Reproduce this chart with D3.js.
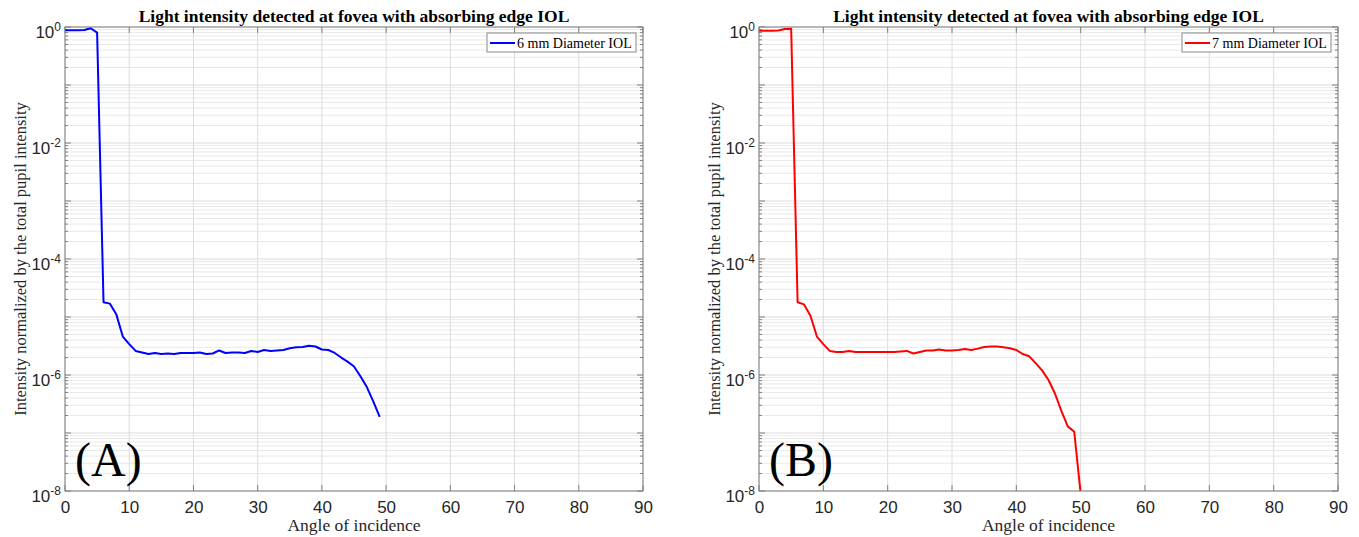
<!DOCTYPE html>
<html>
<head>
<meta charset="utf-8">
<script src="https://cdnjs.cloudflare.com/ajax/libs/d3/7.8.5/d3.min.js"></script>
<style>
  body { margin: 0; background: #fff; }
  svg text { fill: #262626; }
</style>
</head>
<body>
<div id="chart"></div>
<script>
const width = 1359;
const height = 537;

// Angle of incidence (degrees)
const anglesA = d3.range(0, 50);
const anglesB = d3.range(0, 51);

// 6 mm diameter IOL
const intensityA = [
  0.88, 0.88, 0.88, 0.89, 0.95, 0.80, 1.8e-5, 1.7e-5, 1.1e-5, 4.6e-6,
  3.4e-6, 2.6e-6, 2.45e-6, 2.3e-6, 2.4e-6, 2.3e-6, 2.35e-6, 2.3e-6, 2.4e-6, 2.4e-6,
  2.4e-6, 2.45e-6, 2.3e-6, 2.35e-6, 2.65e-6, 2.4e-6, 2.45e-6, 2.45e-6, 2.4e-6, 2.6e-6,
  2.5e-6, 2.7e-6, 2.6e-6, 2.65e-6, 2.7e-6, 2.9e-6, 3.0e-6, 3.05e-6, 3.2e-6, 3.1e-6,
  2.75e-6, 2.7e-6, 2.4e-6, 2.0e-6, 1.7e-6, 1.4e-6, 9.5e-7, 6.2e-7, 3.5e-7, 1.9e-7
];

// 7 mm diameter IOL
const intensityB = [
  0.86, 0.86, 0.86, 0.87, 0.92, 0.93, 1.8e-5, 1.65e-5, 1.05e-5, 4.6e-6,
  3.4e-6, 2.6e-6, 2.5e-6, 2.5e-6, 2.6e-6, 2.5e-6, 2.5e-6, 2.5e-6, 2.5e-6, 2.5e-6,
  2.5e-6, 2.5e-6, 2.55e-6, 2.6e-6, 2.35e-6, 2.5e-6, 2.65e-6, 2.65e-6, 2.75e-6, 2.65e-6,
  2.65e-6, 2.7e-6, 2.8e-6, 2.7e-6, 2.85e-6, 3.05e-6, 3.1e-6, 3.1e-6, 3.0e-6, 2.9e-6,
  2.7e-6, 2.3e-6, 2.1e-6, 1.6e-6, 1.2e-6, 8.2e-7, 4.8e-7, 2.4e-7, 1.3e-7, 1.05e-7,
  9e-9
];

const xTicks = d3.range(0, 91, 10);
const yTickExps = [0, -2, -4, -6, -8];

const titleText = "Light intensity detected at fovea with absorbing edge IOL";
const xLabel = "Angle of incidence";
const yLabel = "Intensity normalized by the total pupil intensity";

const panels = [
  { id: "A", label: "(A)", legend: "6 mm Diameter IOL", color: "#0000ff",
    x: anglesA, y: intensityA, left: 65, right: 643 },
  { id: "B", label: "(B)", legend: "7 mm Diameter IOL", color: "#ff0000",
    x: anglesB, y: intensityB, left: 759, right: 1338 }
];

const plotTop = 27, plotBottom = 491;
const serif = "'Liberation Serif', 'Times New Roman', serif";
const sans = "'Liberation Sans', Arial, sans-serif";

const svg = d3.select("#chart")
  .append("svg")
  .attr("width", width)
  .attr("height", height);

panels.forEach(p => {
  const x = d3.scaleLinear().domain([0, 90]).range([p.left, p.right]);
  const y = d3.scaleLog().domain([1e-8, 1]).range([plotBottom, plotTop]);
  const g = svg.append("g");

  // minor grid
  const minor = [];
  for (let e = -8; e < 0; e++) {
    for (let k = 2; k <= 9; k++) minor.push(k * Math.pow(10, e));
  }
  g.selectAll(".minor").data(minor).enter().append("line")
    .attr("x1", p.left).attr("x2", p.right)
    .attr("y1", d => y(d)).attr("y2", d => y(d))
    .attr("stroke", "#e9e9e9").attr("stroke-width", 1);

  // major grid
  const decades = d3.range(-8, 1).map(e => Math.pow(10, e));
  g.selectAll(".major").data(decades).enter().append("line")
    .attr("x1", p.left).attr("x2", p.right)
    .attr("y1", d => y(d)).attr("y2", d => y(d))
    .attr("stroke", "#dcdcdc").attr("stroke-width", 1);
  g.selectAll(".vgrid").data(xTicks).enter().append("line")
    .attr("x1", d => x(d)).attr("x2", d => x(d))
    .attr("y1", plotTop).attr("y2", plotBottom)
    .attr("stroke", "#dcdcdc").attr("stroke-width", 1);

  // ticks (inward) on all four sides
  const tk = g.append("g").attr("stroke", "#808080").attr("stroke-width", 1);
  xTicks.forEach(v => {
    tk.append("line").attr("x1", x(v)).attr("x2", x(v)).attr("y1", plotBottom).attr("y2", plotBottom - 6);
    tk.append("line").attr("x1", x(v)).attr("x2", x(v)).attr("y1", plotTop).attr("y2", plotTop + 6);
  });
  decades.forEach(v => {
    tk.append("line").attr("x1", p.left).attr("x2", p.left + 6).attr("y1", y(v)).attr("y2", y(v));
    tk.append("line").attr("x1", p.right).attr("x2", p.right - 6).attr("y1", y(v)).attr("y2", y(v));
  });
  minor.forEach(v => {
    tk.append("line").attr("x1", p.left).attr("x2", p.left + 3).attr("y1", y(v)).attr("y2", y(v));
    tk.append("line").attr("x1", p.right).attr("x2", p.right - 3).attr("y1", y(v)).attr("y2", y(v));
  });

  // x axis labels via d3 axis
  const xAxis = g.append("g")
    .attr("transform", `translate(0,${plotBottom})`)
    .call(d3.axisBottom(x).tickValues(xTicks).tickSize(0).tickPadding(10));
  xAxis.select(".domain").remove();
  xAxis.selectAll("text")
    .attr("font-family", sans)
    .attr("font-size", 17)
    .attr("fill", "#262626");

  // y tick labels with superscripts
  yTickExps.forEach(e => {
    const t = g.append("text")
      .attr("x", p.left - 4)
      .attr("y", y(Math.pow(10, e)) + 11)
      .attr("text-anchor", "end")
      .attr("font-family", sans)
      .attr("font-size", 17);
    t.append("tspan").text("10");
    t.append("tspan").attr("font-size", 12).attr("dy", -7).text(String(e));
  });

  // clip & data line
  const clipId = "clip" + p.id;
  svg.append("clipPath").attr("id", clipId)
    .append("rect").attr("x", p.left).attr("y", plotTop)
    .attr("width", p.right - p.left).attr("height", plotBottom - plotTop);

  const line = d3.line()
    .x((d, i) => x(p.x[i]))
    .y(d => y(d));
  g.append("path")
    .datum(p.y)
    .attr("clip-path", `url(#${clipId})`)
    .attr("fill", "none")
    .attr("stroke", p.color)
    .attr("stroke-width", 2)
    .attr("stroke-linejoin", "round")
    .attr("d", line);

  // box
  g.append("rect")
    .attr("x", p.left).attr("y", plotTop)
    .attr("width", p.right - p.left).attr("height", plotBottom - plotTop)
    .attr("fill", "none").attr("stroke", "#808080").attr("stroke-width", 1);

  // title
  g.append("text")
    .attr("x", (p.left + p.right) / 2).attr("y", 22)
    .attr("text-anchor", "middle")
    .attr("font-family", serif)
    .attr("font-weight", "bold")
    .attr("font-size", 17.5)
    .style("fill", "#000")
    .text(titleText);

  // axis labels
  g.append("text")
    .attr("x", (p.left + p.right) / 2).attr("y", 531)
    .attr("text-anchor", "middle")
    .attr("font-family", serif)
    .attr("font-size", 17.5)
    .text(xLabel);
  g.append("text")
    .attr("transform", `translate(${p.left - 39},${(plotTop + plotBottom) / 2}) rotate(-90)`)
    .attr("text-anchor", "middle")
    .attr("font-family", serif)
    .attr("font-size", 16.5)
    .text(yLabel);

  // legend
  const lw = 149, lh = 19;
  const lx = p.right - 156, ly = 33;
  g.append("rect")
    .attr("x", lx).attr("y", ly).attr("width", lw).attr("height", lh)
    .attr("fill", "#fff").attr("stroke", "#8a8a8a").attr("stroke-width", 1);
  g.append("line")
    .attr("x1", lx + 3).attr("x2", lx + 28)
    .attr("y1", ly + 10).attr("y2", ly + 10)
    .attr("stroke", p.color).attr("stroke-width", 2);
  g.append("text")
    .attr("x", lx + 30).attr("y", ly + 15)
    .attr("font-family", serif)
    .attr("font-size", 14)
    .style("fill", "#000")
    .text(p.legend);

  // panel label
  g.append("text")
    .attr("x", p.left + 10).attr("y", 476)
    .attr("font-family", serif)
    .attr("font-size", 48)
    .style("fill", "#000")
    .text(p.label);
});
</script>
</body>
</html>
